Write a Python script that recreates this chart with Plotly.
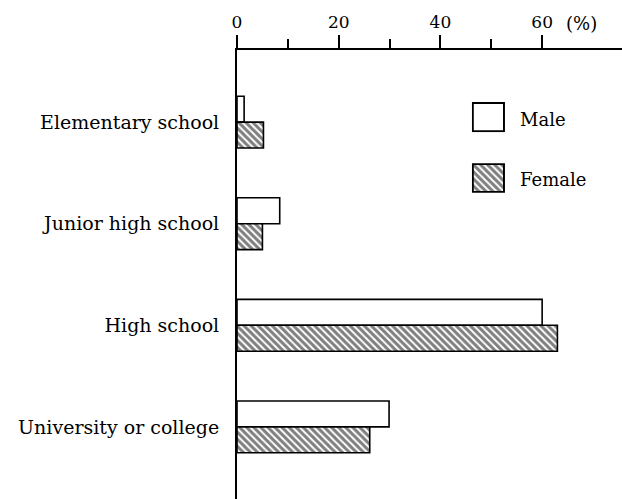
import plotly.graph_objects as go

categories = ["Elementary school", "Junior high school", "High school", "University or college"]
male = [1.4, 8.4, 60.0, 29.9]
female = [5.2, 5.0, 63.0, 26.1]
major_ticks = [0, 20, 40, 60]
minor_ticks = [10, 30, 50]
legend_names = ["Male", "Female"]

FONT = "DejaVu Serif"
HATCH = dict(shape="\\", fgcolor="black", bgcolor="white", size=5, solidity=0.6)
fig = go.Figure()

fig.add_trace(go.Bar(
    y=categories, x=male, orientation="h", name=legend_names[0],
    marker=dict(color="white", line=dict(color="black", width=1.6)),
    showlegend=False,
))
fig.add_trace(go.Bar(
    y=categories, x=female, orientation="h", name=legend_names[1],
    marker=dict(color="white", line=dict(color="black", width=1.6), pattern=HATCH),
    showlegend=False,
))

# legend swatches drawn as single bars on small overlay axes
fig.add_trace(go.Bar(
    x=[1], y=[0], orientation="h", width=1, xaxis="x2", yaxis="y2",
    marker=dict(color="white", line=dict(color="black", width=2)),
    showlegend=False, hoverinfo="skip",
))
fig.add_trace(go.Bar(
    x=[1], y=[0], orientation="h", width=1, xaxis="x3", yaxis="y3",
    marker=dict(color="white", line=dict(color="black", width=2), pattern=HATCH),
    showlegend=False, hoverinfo="skip",
))

hidden = dict(visible=False, fixedrange=True)
fig.update_layout(
    width=622, height=499,
    margin=dict(l=237, r=0, t=50, b=0),
    paper_bgcolor="white", plot_bgcolor="white",
    font=dict(family=FONT, size=19, color="black"),
    barmode="group", bargap=0.49, bargroupgap=0,
    xaxis=dict(
        side="top", range=[0, 75.7], tickvals=major_ticks,
        ticktext=[str(v) for v in major_ticks],
        showline=True, linecolor="black", linewidth=2,
        ticks="outside", ticklen=13, tickwidth=1.5, tickcolor="black",
        showgrid=False, zeroline=False,
        minor=dict(tickvals=minor_ticks, ticks="outside", ticklen=9,
                   tickwidth=1.5, tickcolor="black", showgrid=False),
        tickfont=dict(family=FONT, size=17),
    ),
    yaxis=dict(
        type="category", categoryorder="array", categoryarray=categories,
        range=[3.71, -0.71], showline=True, linecolor="black", linewidth=2,
        ticks="", showgrid=False, zeroline=False,
        ticklabelstandoff=12, tickfont=dict(family=FONT, size=19),
    ),
    xaxis2=dict(domain=[0.610, 0.696], range=[-0.03, 1.03], anchor="y2", **hidden),
    yaxis2=dict(domain=[0.817, 0.884], range=[-0.53, 0.53], anchor="x2", **hidden),
    xaxis3=dict(domain=[0.610, 0.696], range=[-0.03, 1.03], anchor="y3", **hidden),
    yaxis3=dict(domain=[0.682, 0.748], range=[-0.53, 0.53], anchor="x3", **hidden),
    annotations=[
        dict(text="(%)", xref="x", yref="paper", x=67.8, y=1.0, yshift=14,
             xanchor="center", yanchor="bottom", showarrow=False,
             font=dict(family=FONT, size=18, color="black")),
        dict(text=legend_names[0], xref="paper", yref="paper", x=0.73, y=(499 - 119) / 449,
             xanchor="left", yanchor="middle", showarrow=False,
             font=dict(family=FONT, size=18, color="black")),
        dict(text=legend_names[1], xref="paper", yref="paper", x=0.73, y=(499 - 180) / 449,
             xanchor="left", yanchor="middle", showarrow=False,
             font=dict(family=FONT, size=18, color="black")),
    ],
)

fig.write_html("out.html", config={"displayModeBar": False},
               post_script="document.body.style.margin='0';")
